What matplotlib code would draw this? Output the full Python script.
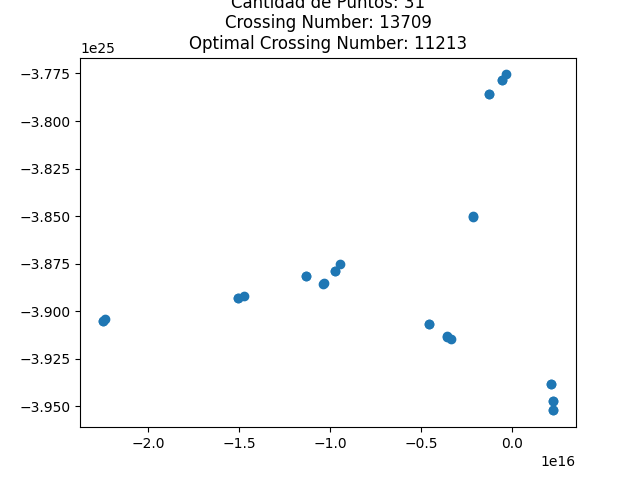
import matplotlib
matplotlib.use('Agg')
import matplotlib.pyplot as plt
import numpy as np

# point coordinates (x in 1e16, y in 1e25)
x_vals = [-2.250, -2.249, -2.236, -1.504, -1.503, -1.471, -1.134, -1.037, -1.035,
          -0.973, -0.972, -0.943, -0.454, -0.454, -0.356, -0.355, -0.337,
          -0.213, -0.212, -0.125, -0.124, -0.057, -0.056, -0.033,
          0.213, 0.212, 0.227, 0.227, 0.227, 0.228, -1.134]
y_vals = [-3.9051, -3.9050, -3.9043, -3.8929, -3.8928, -3.8922, -3.8817, -3.8855, -3.8853,
          -3.8789, -3.8788, -3.8754, -3.9069, -3.9068, -3.9132, -3.9133, -3.9146,
          -3.8502, -3.8500, -3.7860, -3.7858, -3.7783, -3.7782, -3.7755,
          -3.9384, -3.9382, -3.9472, -3.9470, -3.9521, -3.9519, -3.8816]

n_points = 31
crossing = 13709
optimal = 11213

x = np.array(x_vals) * 1e16
y = np.array(y_vals) * 1e25

fig, ax = plt.subplots(figsize=(6.4, 4.8), dpi=100)
ax.scatter(x, y)
ax.set_title(f'Cantidad de Puntos: {n_points}\nCrossing Number: {crossing}\n'
             f'Optimal Crossing Number: {optimal}')

plt.savefig('out.png')
